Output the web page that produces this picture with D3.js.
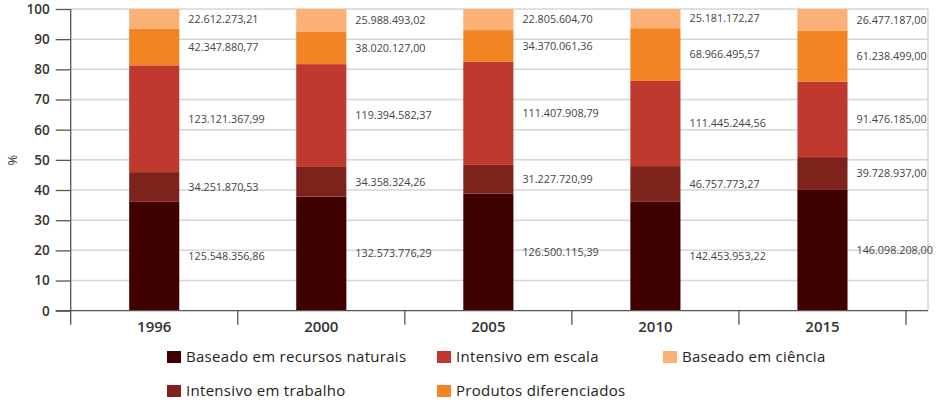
<!DOCTYPE html>
<html><head><meta charset="utf-8">
<script src="https://cdn.jsdelivr.net/npm/d3@7"></script>
<style>
html,body{margin:0;padding:0;background:#fff;}
svg{display:block;}
</style></head>
<body>
<svg id="chart" width="939" height="403"></svg>
<script>
const years = ["1996","2000","2005","2010","2015"];
const seriesNames = ["Baseado em recursos naturais","Intensivo em trabalho","Intensivo em escala","Produtos diferenciados","Baseado em ciência"];
const naturais = [125548356.86,132573776.29,126500115.39,142453953.22,146098208.00];
const trabalho = [34251870.53,34358324.26,31227720.99,46757773.27,39728937.00];
const escala = [123121367.99,119394582.37,111407908.79,111445244.56,91476185.00];
const diferenciados = [42347880.77,38020127.00,34370061.36,68966495.57,61238499.00];
const ciencia = [22612273.21,25988493.02,22805604.70,25181172.27,26477187.00];
const yTicks = [0,10,20,30,40,50,60,70,80,90,100];
const colors = ["#3f0000","#7e231c","#c0392e","#f38423","#fbb175"];

const seriesArrays = [naturais,trabalho,escala,diferenciados,ciencia];
const keys = seriesNames;
const rows = years.map((y,i)=>{const o={year:y}; keys.forEach((k,j)=>o[k]=seriesArrays[j][i]); return o;});
const stacked = d3.stack().keys(keys).offset(d3.stackOffsetExpand)(rows);

const svg = d3.select("#chart");
const L=70.7, R=928, T=9, B=310.7, XR=906;
const FONT = "'Open Sans',sans-serif";
const x = d3.scaleBand().domain(years).range([L,XR]).paddingInner(0.7).paddingOuter(0.35);
const y = d3.scaleLinear().domain([0,100]).range([B,T]);

// gridlines
svg.append("g").selectAll("line").data(yTicks.filter(d=>d>0)).join("line")
  .attr("x1",L).attr("x2",R).attr("y1",d=>y(d)).attr("y2",d=>y(d))
  .attr("stroke","#d6d6d6").attr("stroke-width",1.5);
svg.append("line").attr("x1",R).attr("x2",R).attr("y1",y(100)).attr("y2",B).attr("stroke","#d6d6d6").attr("stroke-width",1.5);

// bars
const g = svg.append("g");
stacked.forEach((s,si)=>{
  g.append("g").attr("fill",colors[si]).selectAll("rect").data(s).join("rect")
    .attr("x",d=>x(d.data.year)).attr("width",x.bandwidth())
    .attr("y",d=>y(d[1]*100)).attr("height",d=>y(d[0]*100)-y(d[1]*100));
});
// value labels
const fmt = d3.formatLocale({decimal:",",thousands:".",grouping:[3],currency:["",""]}).format(",.2f");
stacked.forEach((s,si)=>{
  svg.append("g").selectAll("text").data(s).join("text")
    .attr("x",d=>x(d.data.year)+x.bandwidth()+9)
    .attr("y",d=>y((d[0]+d[1])/2*100))
    .attr("dy","0.35em")
    .attr("font-family",FONT).attr("font-size",10.8).attr("fill","#444")
    .text(d=>fmt(d.data[keys[si]]));
});

// y axis
const yAxis = d3.axisLeft(y).tickValues(yTicks).tickSize(15).tickPadding(6);
const ya = svg.append("g").attr("transform",`translate(${L},0)`).call(yAxis);
ya.select(".domain").remove();
ya.selectAll(".tick line").attr("stroke","#555").attr("stroke-width",1.3);
ya.selectAll(".tick text").attr("font-family",FONT).attr("font-weight",600).attr("font-size",13.5).attr("fill","#333");
svg.append("line").attr("x1",L).attr("x2",L).attr("y1",T).attr("y2",B+14).attr("stroke","#555").attr("stroke-width",1.3);
// x axis
svg.append("line").attr("x1",L-15).attr("x2",R).attr("y1",B).attr("y2",B).attr("stroke","#555").attr("stroke-width",1.3);
const step = x.step();
const bounds = d3.range(years.length+1).map(i=>L+i*step);
svg.append("g").selectAll("line").data(bounds.slice(1)).join("line")
  .attr("x1",d=>d).attr("x2",d=>d).attr("y1",B).attr("y2",B+14).attr("stroke","#555").attr("stroke-width",1.3);
svg.append("g").selectAll("text").data(years).join("text")
  .attr("x",d=>x(d)+x.bandwidth()/2).attr("y",B+21).attr("text-anchor","middle")
  .attr("font-family",FONT).attr("font-weight",600).attr("font-size",15).attr("fill","#333")
  .text(d=>d);
// y label
svg.append("text").attr("transform","translate(17,160) rotate(-90)").attr("text-anchor","middle")
  .attr("font-family",FONT).attr("font-size",13).attr("fill","#333").text("%");

// legend
const colX=[167,437,663], rowY=[357,391];
const lg = svg.append("g").selectAll("g").data(keys).join("g")
  .attr("transform",(d,i)=>`translate(${colX[Math.floor(i/2)]},${rowY[i%2]})`);
lg.append("rect").attr("x",0).attr("y",-6).attr("width",14).attr("height",12).attr("fill",(d,i)=>colors[i]);
lg.append("text").attr("x",19).attr("y",0).attr("dy","0.35em")
  .attr("font-family",FONT).attr("font-size",15).attr("letter-spacing",0.3).attr("fill","#222").text(d=>d);
</script>
</body></html>
